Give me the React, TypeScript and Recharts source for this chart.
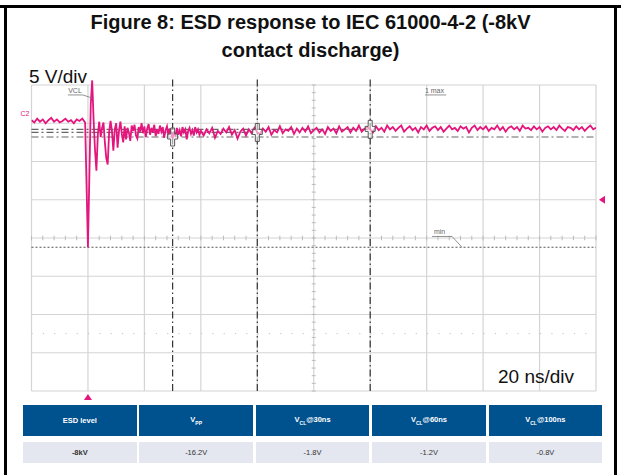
import React from 'react';
import { LineChart, Line, XAxis, YAxis, ReferenceLine, ReferenceDot } from 'recharts';

// scope trace in volts
const PRE_START = -20;
const PRE_STEP = 1;
const preVolts = [
  0.4, 0.1, 0.6, 0.2, 0.5, 0.0, 0.4, 0.7, 0.2, 0.5,
  0.1, 0.3, 0.6, 0.2, 0.4, 0.0, 0.5, 0.3, 0.6, 0.1,
];

const RING_START = 0;
const RING_STEP = 0.5;
const ringVolts = [
  -16.2, -7.0, 2.5, 5.6, 0.5, -3.5, -6.2, -1.5, 0.2, -1.8,
  -0.6, 0.1, -2.5, -4.6, -5.4, -1.2, 0.3, -1.0, -3.6, -0.8,
  0.0, -3.2, -1.0, 0.2, -1.4, -2.5, -0.4, -2.1, -0.6, -1.2,
  -2.3, -0.3, -1.0, -0.2, -1.6, -2.0, -0.5, -1.1, 0.0, -1.3,
  -0.4, -1.8, -0.7, -0.1, -1.5, -0.6, -1.2, -0.2, -1.7, -0.8,
  -1.4, -0.3, -1.1, -0.5, -1.9, -0.9, -0.4, -1.6, -0.7, -1.3,
  -2.0, -1.1, -1.8, -0.6, -1.5, -0.9, -1.7, -0.5, -1.2, -0.8,
  -2.1, -1.0, -0.6, -1.4, -0.9, -1.6, -0.5, -1.2, -0.8, -1.5,
  -1.0,
];

const TAIL_START = 41;
const TAIL_STEP = 1;
const tailVolts = [
  -1.6, -0.8, -1.3, -0.6, -1.9, -1.0, -1.4, -0.7, -1.2, -0.5,
  -1.5, -0.9, -2.0, -1.1, -0.7, -1.6, -0.8, -1.3, -0.6, -1.2,
  -1.4, -0.7, -1.1, -0.5, -1.5, -0.9, -1.2, -0.4, -1.3, -0.8,
  -1.0, -0.5, -1.4, -0.7, -1.2, -0.6, -1.1, -0.4, -1.3, -0.9,
  -0.6, -1.2, -0.8, -1.4, -0.5, -1.0, -0.7, -1.3, -0.4, -1.1,
  -0.8, -0.5, -1.2, -0.6, -1.0, -0.3, -1.1, -0.7, -0.5, -0.8,
  -1.2, -0.4, -0.9, -0.6, -1.1, -0.3, -0.8, -0.5, -1.0, -0.6,
  -0.3, -1.1, -0.7, -0.4, -0.9, -0.6, -1.2, -0.5, -0.8, -0.3,
  -1.0, -0.6, -0.4, -0.9, -0.5, -1.1, -0.7, -0.3, -0.8, -0.6,
  -1.0, -0.4, -0.7, -0.5, -1.2, -0.6, -0.3, -0.9, -0.5, -0.8,
  -0.4, -1.0, -0.6, -0.8, -0.3, -0.9, -0.5, -1.1, -0.6, -0.4,
  -0.8, -0.5, -1.0, -0.3, -0.7, -0.6, -0.9, -0.4, -0.8, -0.5,
  -1.1, -0.6, -0.4, -0.8, -0.5, -0.9, -0.3, -0.7, -1.0, -0.5,
  -0.6, -0.9, -0.4, -0.8, -0.5, -1.0, -0.6, -0.3, -0.8, -0.6,
];

// screen divisions: 20 ns/div, 5 V/div
const timeDivs = [-20, 0, 20, 40, 60, 80, 100, 120, 140, 160, 180];
const voltDivs = [5, 0, -5, -10, -15, -20, -25, -30, -35];
const cursorTimes = [30, 60, 100];
const cursorVolts = [-1.8, -1.2, -0.8];
const minVolt = -16.2;
const trigTime = 0;
const trigLevel = -10;

const tableHead = [
  { main: 'ESD level', sub: '', rest: '' },
  { main: 'V', sub: 'PP', rest: '' },
  { main: 'V', sub: 'CL', rest: '@30ns' },
  { main: 'V', sub: 'CL', rest: '@60ns' },
  { main: 'V', sub: 'CL', rest: '@100ns' },
];
const tableRow = ['-8kV', '-16.2V', '-1.8V', '-1.2V', '-0.8V'];

const trace = [
  ...preVolts.map((v, i) => ({ t: PRE_START + i * PRE_STEP, v })),
  ...ringVolts.map((v, i) => ({ t: RING_START + i * RING_STEP, v })),
  ...tailVolts.map((v, i) => ({ t: TAIL_START + i * TAIL_STEP, v })),
];

const T0 = timeDivs[0];
const T1 = timeDivs[timeDivs.length - 1];
const V0 = voltDivs[voltDivs.length - 1];
const V1 = voltDivs[0];
const midT = 80;
const midV = -15;

const hTicks: number[] = [];
for (let t = T0; t <= T1; t += 4) hTicks.push(t);
const vTicks: number[] = [];
for (let v = V0; v <= V1; v += 1) vTicks.push(v);

const PINK = '#E4157C';
const FONT = '"Liberation Sans", Arial, sans-serif';

const CursorMark = (p: any) => {
  const { cx, cy } = p;
  const d = `M${cx - 2},${cy - 9} H${cx + 2} V${cy - 3} H${cx + 5} V${cy + 2} H${cx + 2} V${cy + 9} H${cx - 2} V${cy + 2} H${cx - 5} V${cy - 3} H${cx - 2} Z`;
  return <path d={d} fill="#fff" fillOpacity={0.55} stroke="#555" strokeWidth={1} />;
};

const TrigUp = (p: any) => (
  <path d={`M${p.cx},${p.cy + 3} L${p.cx - 4},${p.cy + 9} L${p.cx + 4},${p.cy + 9} Z`} fill={PINK} />
);
const TrigLeft = (p: any) => (
  <path d={`M${p.cx + 3},${p.cy} L${p.cx + 9},${p.cy - 4} L${p.cx + 9},${p.cy + 4} Z`} fill={PINK} />
);

const smallText = (value: string, color = '#666', anchor = 'start', dx = 0) => (p: any) => (
  <text x={p.cx + dx} y={p.cy} fill={color} fontSize={7} fontFamily={FONT} textAnchor={anchor}>
    {value}
  </text>
);

const grey = '#d4d4d4';

const App = () => (
  <div style={{ position: 'relative', width: 621, height: 475, background: '#fff', fontFamily: FONT }}>
    <style>{'body{margin:0}'}</style>
    {/* outer figure frame */}
    <div style={{ position: 'absolute', left: 0, top: 5, width: 621, height: 3, background: '#000' }} />
    <div style={{ position: 'absolute', left: 4, top: 5, width: 3, height: 470, background: '#000' }} />
    <div style={{ position: 'absolute', left: 614, top: 5, width: 3, height: 470, background: '#000' }} />

    <div
      style={{
        position: 'absolute', left: 7, top: 8, width: 607, textAlign: 'center',
        fontSize: 20, lineHeight: '28px', fontWeight: 'bold', color: '#111',
      }}
    >
      Figure 8: ESD response to IEC 61000-4-2 (-8kV
      <br />
      contact discharge)
    </div>

    <div style={{ position: 'absolute', left: 0, top: 0 }}>
      <LineChart width={621} height={475} data={trace} margin={{ top: 78, right: 25, bottom: 84, left: 31.5 }}>
        <XAxis type="number" dataKey="t" domain={[T0, T1]} hide allowDataOverflow />
        <YAxis type="number" domain={[V0, 5.915]} hide allowDataOverflow />

        {voltDivs.map((v) => (
          <ReferenceLine key={`h${v}`} segment={[{ x: T0, y: v }, { x: T1, y: v }]} stroke={grey} strokeWidth={1.2} ifOverflow="visible" />
        ))}
        {timeDivs.map((t) => (
          <ReferenceLine key={`v${t}`} segment={[{ x: t, y: V0 }, { x: t, y: V1 }]} stroke={grey} strokeWidth={1.2} ifOverflow="visible" />
        ))}
        {hTicks.map((t) => (
          <ReferenceLine key={`ht${t}`} segment={[{ x: t, y: midV - 0.3 }, { x: t, y: midV + 0.3 }]} stroke="#bbb" ifOverflow="visible" />
        ))}
        {vTicks.map((v) => (
          <ReferenceLine key={`vt${v}`} segment={[{ x: midT - 0.7, y: v }, { x: midT + 0.7, y: v }]} stroke="#bbb" ifOverflow="visible" />
        ))}
        <ReferenceLine y={-27.5} stroke="#c4c4c4" strokeDasharray="1.2 10.1" />

        {cursorVolts.map((v, i) => (
          <ReferenceLine
            key={`cv${v}`}
            segment={[{ x: T0, y: v }, { x: i === 0 ? T1 : cursorTimes[i], y: v }]}
            stroke="#666"
            strokeWidth={1.2}
            strokeDasharray="7 3 2 3"
            ifOverflow="visible"
          />
        ))}
        <ReferenceLine y={minVolt} stroke="#555" strokeWidth={1.1} strokeDasharray="2 2" />
        {cursorTimes.map((t) => (
          <ReferenceLine key={`ct${t}`} x={t} stroke="#333" strokeWidth={1.2} strokeDasharray="7 3 1.5 3" />
        ))}

        <Line type="linear" dataKey="v" stroke={PINK} strokeWidth={1.8} dot={false} isAnimationActive={false} />

        {cursorTimes.map((t, i) => (
          <ReferenceDot key={`m${t}`} x={t} y={cursorVolts[i]} r={0} shape={CursorMark} ifOverflow="visible" />
        ))}

        <ReferenceDot x={trigTime} y={V0} r={0} shape={TrigUp} ifOverflow="visible" />
        <ReferenceDot x={T1} y={trigLevel} r={0} shape={TrigLeft} ifOverflow="visible" />

        <ReferenceDot x={-7} y={4} r={0} shape={smallText('VCL')} ifOverflow="visible" />
        <ReferenceLine segment={[{ x: -7.1, y: 3.7 }, { x: -1.8, y: 3.7 }]} stroke="#777" strokeWidth={0.8} ifOverflow="visible" />
        <ReferenceLine segment={[{ x: -1.8, y: 3.7 }, { x: 1.4, y: 3.3 }]} stroke="#777" strokeWidth={0.8} ifOverflow="visible" />

        <ReferenceDot x={119.4} y={4} r={0} shape={smallText('1 max')} ifOverflow="visible" />
        <ReferenceLine segment={[{ x: 119.4, y: 3.7 }, { x: 126.9, y: 3.7 }]} stroke="#777" strokeWidth={0.8} ifOverflow="visible" />

        <ReferenceDot x={122.6} y={-14.45} r={0} shape={smallText('min')} ifOverflow="visible" />
        <ReferenceLine segment={[{ x: 121.9, y: -14.8 }, { x: 129, y: -14.8 }]} stroke="#777" strokeWidth={0.8} ifOverflow="visible" />
        <ReferenceLine segment={[{ x: 129, y: -14.8 }, { x: 132.5, y: minVolt }]} stroke="#777" strokeWidth={0.8} ifOverflow="visible" />

        <ReferenceDot x={T0} y={0.9} r={0} shape={smallText('C2', PINK, 'end', -2)} ifOverflow="visible" />
      </LineChart>
    </div>

    <div style={{ position: 'absolute', left: 29, top: 67, fontSize: 19, lineHeight: '19px', color: '#111' }}>5 V/div</div>
    <div style={{ position: 'absolute', left: 498, top: 367, fontSize: 19, lineHeight: '19px', color: '#111' }}>20 ns/div</div>

    <div style={{ position: 'absolute', left: 23, top: 405, display: 'flex', gap: 2.8 }}>
      {tableHead.map((h, i) => (
        <div
          key={i}
          style={{
            width: 113.6, height: 31, background: '#00528E', color: '#fff', fontSize: 7.5, fontWeight: 'bold',
            display: 'flex', alignItems: 'center', justifyContent: 'center',
          }}
        >
          <span>
            {h.main}
            {h.sub && <sub style={{ fontSize: 5 }}>{h.sub}</sub>}
            {h.rest}
          </span>
        </div>
      ))}
    </div>
    <div style={{ position: 'absolute', left: 23, top: 442, display: 'flex', gap: 2.8 }}>
      {tableRow.map((c, i) => (
        <div
          key={i}
          style={{
            width: 113.6, height: 21, background: '#E4E7EF', color: '#333', fontSize: 7.5,
            fontWeight: i === 0 ? 'bold' : 'normal',
            display: 'flex', alignItems: 'center', justifyContent: 'center',
          }}
        >
          {c}
        </div>
      ))}
    </div>
  </div>
);

export default App;
